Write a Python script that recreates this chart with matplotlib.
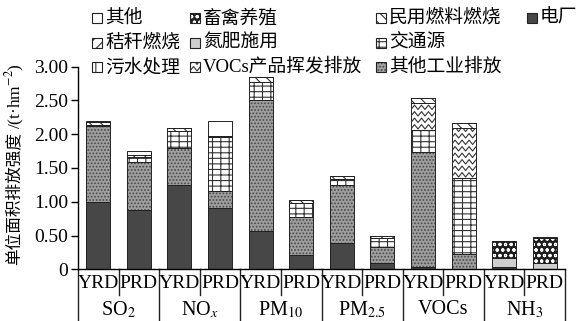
import numpy as np
import matplotlib
matplotlib.use('Agg')
import matplotlib.pyplot as plt
from matplotlib.patches import Rectangle
from matplotlib.lines import Line2D
import matplotlib.transforms as mtransforms

plt.rcParams['font.family'] = ['Liberation Serif', 'Noto Sans CJK SC']
plt.rcParams['mathtext.fontset'] = 'stix'
plt.rcParams['hatch.linewidth'] = 0.8

# ------------------------------------------------------------------
# Data: emission intensity per unit area (t/hm2), by source
# ------------------------------------------------------------------
pollutants = ['SO$_2$', 'NO$_x$', 'PM$_{10}$', 'PM$_{2.5}$', 'VOCs', 'NH$_3$']
regions = ['YRD', 'PRD']

power      = [1.00, 0.88, 1.24, 0.90, 0.57, 0.21, 0.39, 0.10, 0.03, 0.01, 0.03, 0.01]
fertilizer = [0.00, 0.00, 0.00, 0.00, 0.00, 0.00, 0.00, 0.00, 0.00, 0.00, 0.14, 0.09]
industry   = [1.12, 0.71, 0.56, 0.26, 1.93, 0.57, 0.86, 0.23, 1.71, 0.22, 0.00, 0.00]
transport  = [0.02, 0.07, 0.25, 0.79, 0.27, 0.20, 0.09, 0.14, 0.32, 1.12, 0.00, 0.00]
solvent    = [0.00, 0.00, 0.00, 0.00, 0.00, 0.00, 0.00, 0.00, 0.40, 0.74, 0.00, 0.00]
residential= [0.04, 0.03, 0.04, 0.02, 0.07, 0.04, 0.04, 0.03, 0.07, 0.07, 0.00, 0.00]
straw      = [0.00, 0.00, 0.00, 0.00, 0.00, 0.00, 0.00, 0.00, 0.00, 0.00, 0.00, 0.00]
sewage     = [0.00, 0.00, 0.00, 0.00, 0.00, 0.00, 0.00, 0.00, 0.00, 0.00, 0.00, 0.00]
livestock  = [0.00, 0.00, 0.00, 0.00, 0.00, 0.00, 0.00, 0.00, 0.00, 0.00, 0.25, 0.36]
others     = [0.01, 0.06, 0.00, 0.22, 0.00, 0.00, 0.00, 0.00, 0.00, 0.00, 0.00, 0.02]

# name, values, face colour, hatch, hatch colour (bottom to top)
layers = [
    ('电厂',             power,       '#474747', None,     None),
    ('氮肥施用',         fertilizer,  '#cfcfcf', None,     None),
    ('其他工业排放',     industry,    '#9e9e9e', '.....',  '#474747'),
    ('交通源',           transport,   'white',   '---||',  '#333333'),
    ('VOCs产品挥发排放', solvent,     'white',   'zigzag', '#333333'),
    ('民用燃料燃烧',     residential, 'white',   '\\\\\\', '#333333'),
    ('秸秆燃烧',         straw,       'white',   '///',    '#333333'),
    ('污水处理',         sewage,      'white',   '||',     '#333333'),
    ('畜禽养殖',         livestock,   '#1e1e1e', 'ooo',    'white'),
    ('其他',             others,      'white',   None,     None),
]

legend_rows = [
    ['其他', '畜禽养殖', '民用燃料燃烧', '电厂'],
    ['秸秆燃烧', '氮肥施用', '交通源'],
    ['污水处理', 'VOCs产品挥发排放', '其他工业排放'],
]

W, H = 582, 321
fig = plt.figure(figsize=(W / 100, H / 100), dpi=100)
ax = fig.add_axes([78 / W, 1 - 269.3 / H, (565 - 78) / W, (269.3 - 66.5) / H])
ax.set_xlim(0, 12)
ax.set_ylim(0, 3.0)


def zigzag_fill(patch, color, step=6.5, amp=2.2, period=7.0):
    """Fill a patch with zigzag lines drawn in pixel space."""
    bb = patch.get_window_extent()
    if bb.height < 1:
        return
    xs = np.arange(bb.x0 - period, bb.x1 + period, period / 2)
    wave = np.where(np.arange(len(xs)) % 2 == 0, -amp, amp)
    for base in np.arange(bb.y0 + step / 2, bb.y1 + step, step):
        ln = Line2D(xs, base + wave, color=color, lw=0.8,
                    transform=mtransforms.IdentityTransform())
        ln.set_clip_path(patch)
        fig.lines.append(ln)
        ln.set_figure(fig)


x = np.arange(len(power)) + 0.5
bw = 0.59
bottom = np.zeros(len(x))
zig_patches = []
for name, vals, fc, hatch, hc in layers:
    vals = np.array(vals)
    if hatch == 'zigzag':
        bars = ax.bar(x, vals, bw, bottom=bottom, color=fc, linewidth=0, zorder=2)
        zig_patches += [(p, hc) for p in bars.patches]
    elif hatch:
        ax.bar(x, vals, bw, bottom=bottom, color=fc, edgecolor=hc,
               hatch=hatch, linewidth=0, zorder=2)
    else:
        ax.bar(x, vals, bw, bottom=bottom, color=fc, linewidth=0, zorder=2)
    ax.bar(x, vals, bw, bottom=bottom, fill=False, edgecolor='#222222',
           linewidth=0.7, zorder=3)
    bottom += vals

ax.set_yticks(np.arange(0, 3.01, 0.5))
ax.set_yticklabels(['0'] + [f'{v:.2f}' for v in np.arange(0.5, 3.01, 0.5)])
ax.tick_params(axis='y', direction='out', length=5, width=1, labelsize=14, pad=2)
ax.set_xticks([])
for s in ['top', 'right']:
    ax.spines[s].set_visible(False)
for s in ['left', 'bottom']:
    ax.spines[s].set_linewidth(1.0)

# category boxes below the axis
trans = mtransforms.blended_transform_factory(ax.transData, ax.transAxes)
for i in range(13):
    depth = -0.27 if i % 2 == 0 else -0.125
    ax.plot([i, i], [0, depth], transform=trans, color='#222222', lw=1.0, clip_on=False)
for i in range(12):
    ax.text(i + 0.5, -0.068, regions[i % 2], transform=trans, ha='center', va='center',
            fontsize=14)
for g, p in enumerate(pollutants):
    ax.text(2 * g + 1, -0.2, p, transform=trans, ha='center', va='center', fontsize=14.5)

# y label: Chinese part then the unit
fig.canvas.draw()
ylab = fig.text(14 / W, 1 - 265 / H, '单位面积排放强度', rotation=90,
                ha='center', va='bottom', fontsize=12, family=['Noto Sans CJK SC'])
fig.canvas.draw()
top = ylab.get_window_extent().y1
fig.text(15 / W, (top + 3) / H, '/(t·hm$^{-2}$)', rotation=90,
         ha='center', va='bottom', fontsize=12.5)

# legend drawn in figure pixels
styles = {name: (fc, hatch, hc) for name, _, fc, hatch, hc in layers}
col_x = [92, 190, 376, 527]
row_y = [18, 43, 67]
box = 10
for r, row in enumerate(legend_rows):
    for c, name in enumerate(row):
        fc, hatch, hc = styles[name]
        x0 = col_x[c] / W
        y0 = 1 - (row_y[r] + box / 2) / H
        if hatch and hatch != 'zigzag':
            bx = Rectangle((x0, y0), box / W, box / H, transform=fig.transFigure,
                           facecolor=fc, edgecolor=hc, hatch=hatch, linewidth=0)
        else:
            bx = Rectangle((x0, y0), box / W, box / H, transform=fig.transFigure,
                           facecolor=fc, linewidth=0)
        fig.patches.append(bx)
        if hatch == 'zigzag':
            zig_patches.append((bx, hc))
        fig.patches.append(Rectangle((x0, y0), box / W, box / H,
                                     transform=fig.transFigure, fill=False,
                                     edgecolor='#222222', linewidth=0.8))
        fig.text((col_x[c] + box + 3) / W, 1 - row_y[r] / H, name,
                 ha='left', va='center', fontsize=13.5)

fig.canvas.draw()
for p, c in zig_patches:
    zigzag_fill(p, c)

fig.savefig('out.png', dpi=100)
